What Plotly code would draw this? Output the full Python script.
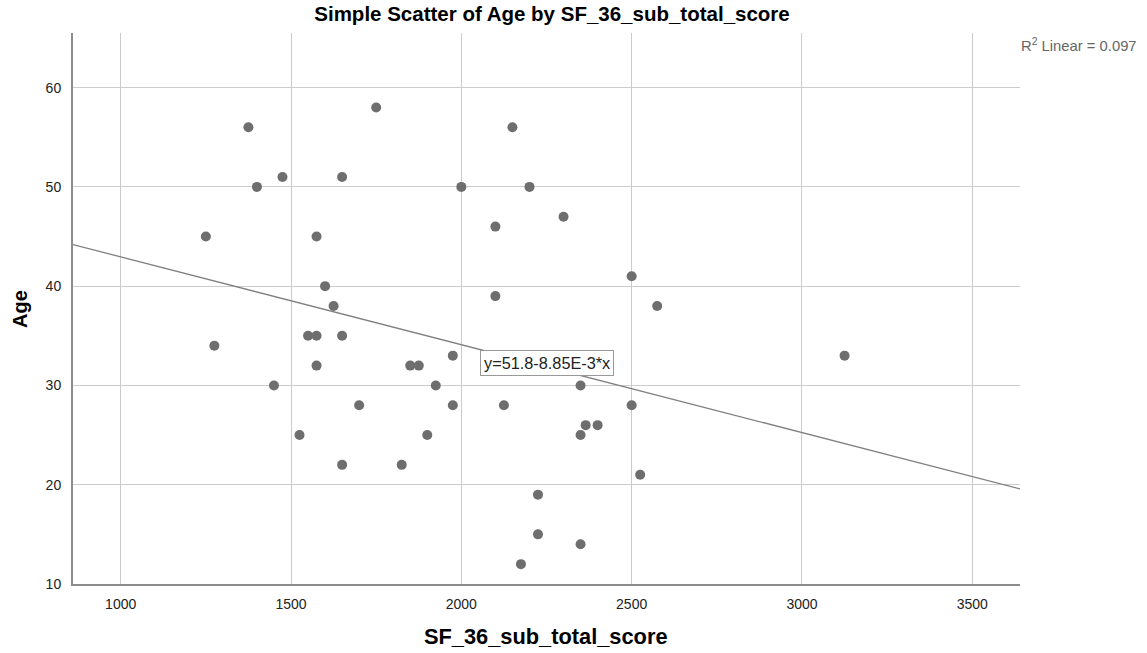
import plotly.graph_objects as go
import numpy as np

# Data
sf36_score = [1375, 1750, 2150, 1475, 1650, 1400, 2000, 2200, 1250, 1575,
              2100, 1600, 1625, 2100, 2300, 2500, 2575, 1275, 1550, 1575,
              1650, 1575, 1450, 1850, 1875, 1975, 1925, 1700, 1975, 2125,
              1525, 1900, 1650, 1825, 2225, 2225, 2175, 3125, 2350, 2500,
              2365, 2400, 2350, 2525, 2350]
age = [56, 58, 56, 51, 51, 50, 50, 50, 45, 45,
       46, 40, 38, 39, 47, 41, 38, 34, 35, 35,
       35, 32, 30, 32, 32, 33, 30, 28, 28, 28,
       25, 25, 22, 22, 19, 15, 12, 33, 30, 28,
       26, 26, 25, 21, 14]

fit_intercept = 51.8
fit_slope = -8.85e-3
r2_text = "R<sup>2</sup> Linear = 0.097"
eq_text = "y=51.8-8.85E-3*x"

x_range = [860, 3640]
y_range = [10, 65.5]
x_ticks = [1000, 1500, 2000, 2500, 3000, 3500]
y_ticks = [10, 20, 30, 40, 50, 60]

FONT = "Liberation Sans, Arial, sans-serif"

# figure geometry
W, H = 1147, 653
L, T = 73, 33
PW, PH = 947, 551
R = W - L - PW
B = H - T - PH


def px_x(p):  # page pixel -> paper x
    return (p - L) / PW


def px_y(p):  # page pixel -> paper y
    return 1 - (p - T) / PH


line_x = np.array(x_range, dtype=float)
line_y = fit_intercept + fit_slope * line_x

fig = go.Figure()
fig.add_trace(go.Scatter(x=line_x, y=line_y, mode="lines",
                         line=dict(color="#808080", width=1.3),
                         hoverinfo="skip", showlegend=False))
fig.add_trace(go.Scatter(x=sf36_score, y=age, mode="markers",
                         marker=dict(color="#6e6e6e", size=10),
                         showlegend=False))

eq_x = 2055
eq_y = fit_intercept + fit_slope * eq_x

fig.update_layout(
    width=W, height=H,
    margin=dict(l=L, r=R, t=T, b=B),
    paper_bgcolor="white", plot_bgcolor="white",
    font=dict(family=FONT, color="#222222", size=14),
    title=dict(text="<b>Simple Scatter of Age by SF_36_sub_total_score</b>",
               x=552 / W, xref="container", xanchor="center",
               y=1 - 14 / H, yref="container", yanchor="middle",
               font=dict(size=20.5, color="#000000", family=FONT)),
    xaxis=dict(range=x_range, tickvals=x_ticks, showgrid=True,
               gridcolor="#cccccc", gridwidth=1, zeroline=False,
               showline=True, linecolor="#8c8c8c", linewidth=2,
               ticks="", tickfont=dict(size=14, color="#222222"),
               ticklabelstandoff=6),
    yaxis=dict(range=y_range, tickvals=y_ticks, showgrid=True,
               gridcolor="#cccccc", gridwidth=1, zeroline=False,
               showline=True, linecolor="#8c8c8c", linewidth=2,
               ticks="", tickfont=dict(size=14, color="#222222"),
               ticklabelstandoff=7),
    annotations=[
        dict(text="<b>SF_36_sub_total_score</b>", xref="paper", yref="paper",
             x=px_x(546), y=px_y(636), xanchor="center",
             yanchor="middle", showarrow=False,
             font=dict(size=21.8, color="#000000", family=FONT)),
        dict(text="<b>Age</b>", xref="paper", yref="paper",
             x=px_x(20), y=px_y(309), xanchor="center",
             yanchor="middle", textangle=-90, showarrow=False,
             font=dict(size=20, color="#000000", family=FONT)),
        dict(text=r2_text, xref="paper", yref="paper",
             x=px_x(1019), y=px_y(45), xanchor="left",
             yanchor="middle", showarrow=False,
             font=dict(size=14.8, color="#666666", family=FONT)),
        dict(text=eq_text, x=eq_x, y=eq_y, xanchor="left", yanchor="top",
             showarrow=False, bgcolor="white", bordercolor="#999999",
             borderwidth=1, borderpad=3,
             font=dict(size=16.3, color="#222222", family=FONT)),
    ],
)

fig.write_html("out.html",
               config={"displayModeBar": False},
               post_script="document.body.style.margin='0';")
